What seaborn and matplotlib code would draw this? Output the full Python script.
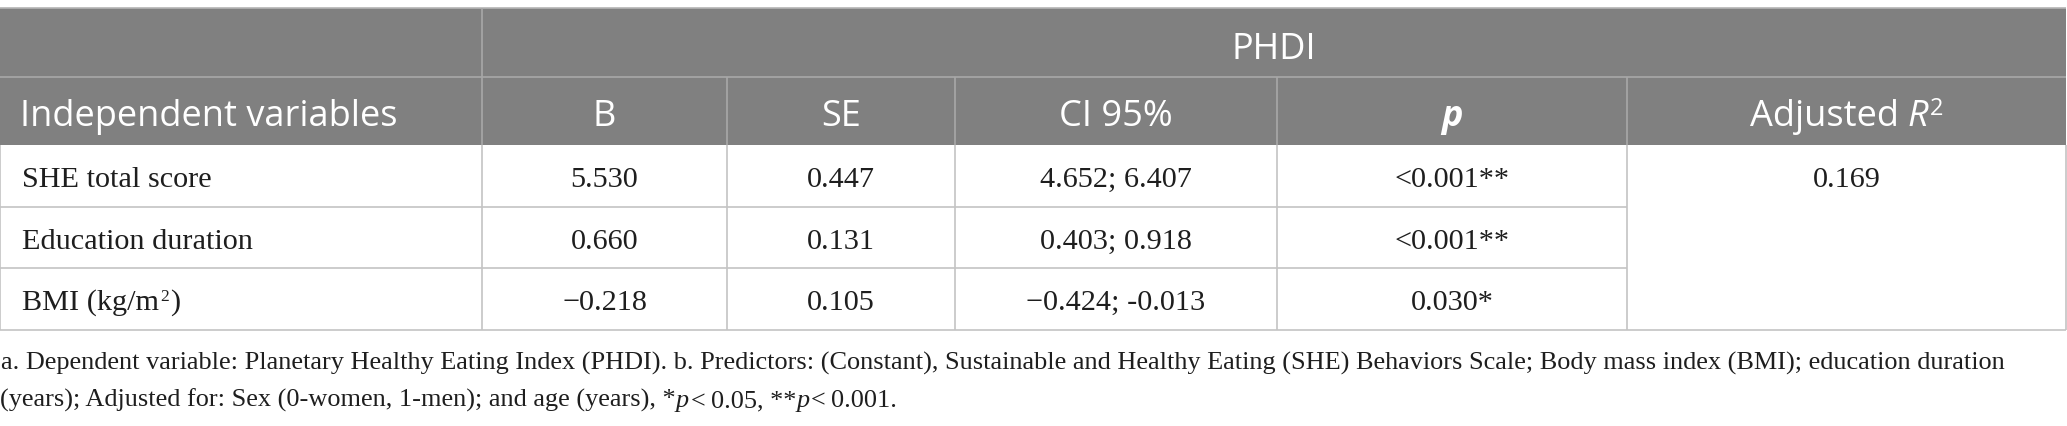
import numpy as np
import pandas as pd
import seaborn as sns
import matplotlib
matplotlib.use("Agg")
import matplotlib.pyplot as plt
from matplotlib.patches import Rectangle

# table content
group_label = "PHDI"
col_labels = ["Independent variables", "B", "SE", "CI 95%", "p", "Adjusted R2"]
variables = ["SHE total score", "Education duration", "BMI (kg/m2)"]
b_vals = ["5.530", "0.660", "\u22120.218"]
se_vals = ["0.447", "0.131", "0.105"]
ci_vals = ["4.652; 6.407", "0.403; 0.918", "\u22120.424; -0.013"]
p_vals = ["<0.001**", "<0.001**", "0.030*"]
adj_r2 = "0.169"
note1 = ("a. Dependent variable: Planetary Healthy Eating Index (PHDI). b. Predictors: (Constant), "
         "Sustainable and Healthy Eating (SHE) Behaviors Scale; Body mass index (BMI); education duration")
note2 = ["(years); Adjusted for: Sex (0-women, 1-men); and age (years), *", "p", "<\u20090.05, **", "p", "<\u20090.001."]

df = pd.DataFrame({"var": variables, "B": b_vals, "SE": se_vals, "CI": ci_vals, "p": p_vals})

sns.set_theme(style="white")

W, H = 2067, 426
fig = plt.figure(figsize=(W / 100, H / 100), dpi=100)
ax = fig.add_axes([0, 0, 1, 1])
ax.set_xlim(0, W)
ax.set_ylim(H, 0)
ax.axis("off")

col_x = [0, 482, 727, 955, 1277, 1627, 2066]
row_y = [8, 77, 145, 207, 268, 330]

HEAD = "#808080"
HEAD_LINE = "#a8a8a8"
GRID = "#c4c4c4"
TXT = "#1e1e1e"

SANS = dict(family=["Open Sans", "DejaVu Sans"], size=26)
SERIF = dict(family=["Liberation Serif", "DejaVu Serif"], size=21.8)
NOTE = dict(family=["Liberation Serif", "DejaVu Serif"], size=18.9)

renderer = fig.canvas.get_renderer()


def put(x, y, runs, ha="center", color=TXT):
    items = []
    for s, st in runs:
        st = dict(st)
        dy = st.pop("dy", 0)
        gap = st.pop("gap", 0)
        t = ax.text(0, y - dy, s, va="baseline", ha="left", color=color, **st)
        items.append((t, gap))
    widths = [t.get_window_extent(renderer).width for t, _ in items]
    total = sum(widths) + sum(g for _, g in items)
    cx = x - total / 2 if ha == "center" else x
    for (t, g), w in zip(items, widths):
        cx += g
        t.set_x(cx)
        cx += w


# header background and lines
ax.add_patch(Rectangle((0, row_y[0]), col_x[-1], row_y[2] - row_y[0], color=HEAD, lw=0, zorder=0))
ax.hlines(row_y[0], 0, col_x[-1], color="#b4b4b4", lw=1.2)
ax.hlines(row_y[1], 0, col_x[-1], color=HEAD_LINE, lw=1.2)
ax.vlines(col_x[1], row_y[0], row_y[1], color=HEAD_LINE, lw=1.2)
ax.vlines(col_x[1:-1], row_y[1], row_y[2], color=HEAD_LINE, lw=1.2)

# body grid
ax.hlines(row_y[3:5], 0, col_x[5], color=GRID, lw=1.2)
ax.hlines(row_y[5], 0, col_x[-1], color=GRID, lw=1.2)
ax.vlines(col_x, row_y[2], row_y[5], color=GRID, lw=1.2)

# header text
put((col_x[1] + col_x[-1]) / 2, 59, [(group_label, SANS)], color="white")
hb = 126
put(20, hb, [(col_labels[0], SANS)], ha="left", color="white")
for i in (1, 2, 3):
    put((col_x[i] + col_x[i + 1]) / 2, hb, [(col_labels[i], SANS)], color="white")
put((col_x[4] + col_x[5]) / 2, hb, [(col_labels[4], dict(SANS, style="italic", weight="bold"))], color="white")
put((col_x[5] + col_x[6]) / 2, hb,
    [("Adjusted", SANS), ("R", dict(SANS, style="italic", gap=9)),
     ("2", dict(SANS, size=17, dy=11, gap=2))], color="white")

# body text
for r, row in df.iterrows():
    base = row_y[r + 2] + 42
    name = row["var"]
    if name.endswith("m2)"):
        put(22, base, [(name[:-2], SERIF), ("2", dict(SERIF, size=12.5, dy=9, gap=1)), (")", dict(SERIF, gap=1))],
            ha="left")
    else:
        put(22, base, [(name, SERIF)], ha="left")
    for j, key in enumerate(["B", "SE", "CI", "p"]):
        put((col_x[j + 1] + col_x[j + 2]) / 2, base, [(row[key], SERIF)])

put((col_x[5] + col_x[6]) / 2, row_y[2] + 42, [(adj_r2, SERIF)])

# footnote
put(1, 370, [(note1, NOTE)], ha="left")
put(0, 407, [(note2[0], NOTE), (note2[1], dict(NOTE, style="italic")),
             (note2[2], dict(NOTE, gap=2)), (note2[3], dict(NOTE, style="italic")),
             (note2[4], dict(NOTE, gap=2))], ha="left")

fig.savefig("out.png", dpi=100, facecolor="white")
